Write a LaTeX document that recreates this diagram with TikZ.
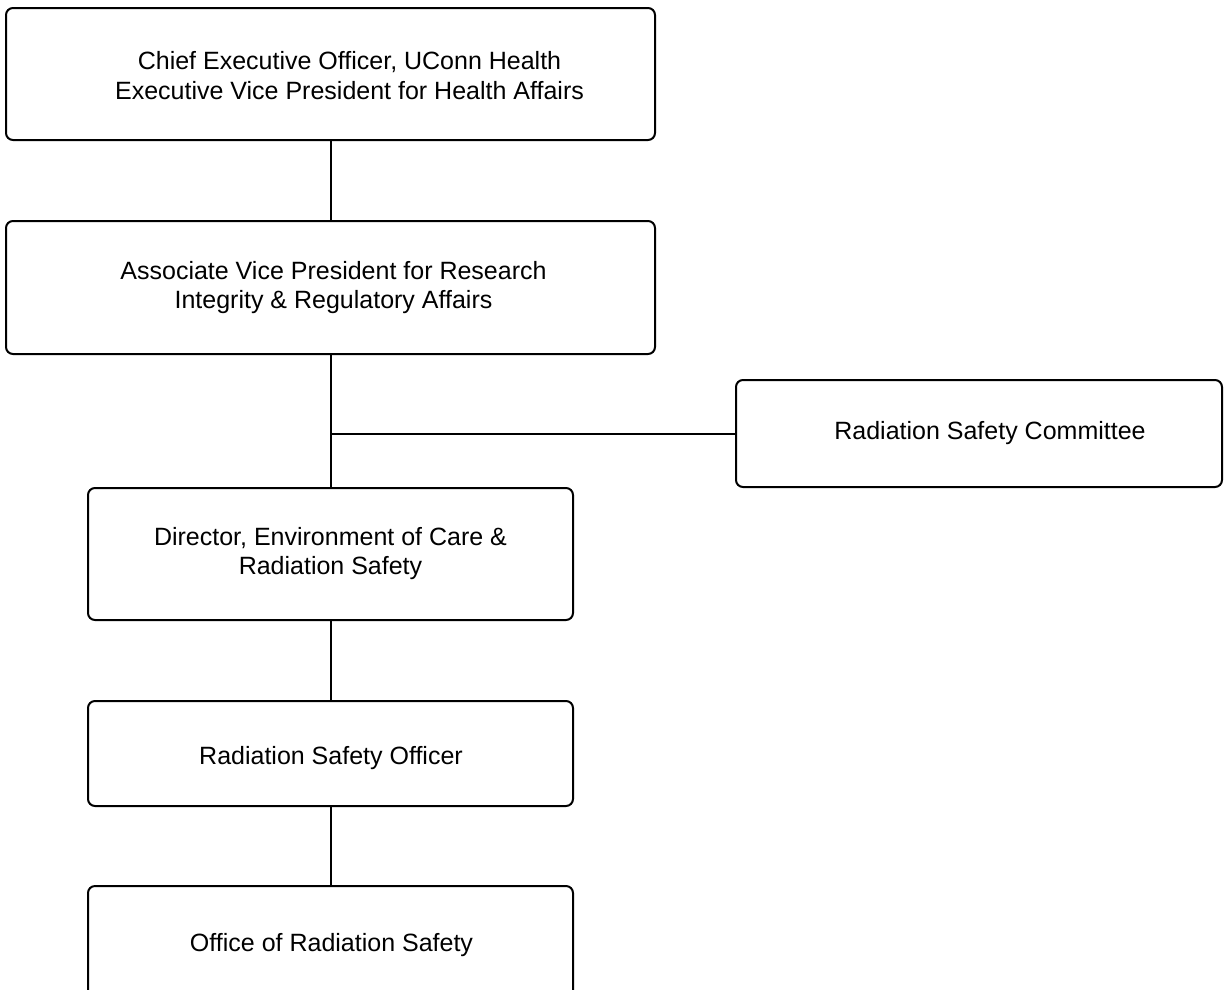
\documentclass[tikz,border=0pt]{standalone}
\usepackage{fontspec}
\setmainfont{Liberation Sans}
\begin{document}
\begin{tikzpicture}[x=1pt,y=-1pt,
  box/.style={draw=black, line width=2pt, rounded corners=7pt, fill=white,
    align=center, inner sep=0pt, font=\fontsize{25}{29.5}\selectfont, text=black},
  conn/.style={draw=black, line width=2pt},
  lbl/.style={align=center, inner sep=0pt, font=\fontsize{25}{29.5}\selectfont, text=black}]
\useasboundingbox (0,0) rectangle (1225,989);
\node[box, minimum width=649pt, minimum height=132pt] (ceo) at (330.5,74) {};
\node[lbl] (ceotext) at (349.5,75.5) {Chief Executive Officer, UConn Health\\Executive Vice President for Health Affairs};
\node[box, minimum width=649pt, minimum height=133pt] (avp) at (330.5,287.5) {};
\node[lbl] (avptext) at (333.5,287.5) {Associate Vice President for Research\\Integrity \& Regulatory Affairs};
\node[box, minimum width=486pt, minimum height=107pt] (rsc) at (979,433.5) {};
\node[lbl] (rsctext) at (990,433) {Radiation Safety Committee};
\node[box, minimum width=485pt, minimum height=132pt] (dir) at (330.5,554) {};
\node[lbl] (dirtext) at (330.5,553.5) {Director, Environment of Care \&\\Radiation Safety};
\node[box, minimum width=485pt, minimum height=105pt] (rso) at (330.5,753.5) {};
\node[lbl] (rsotext) at (331,758) {Radiation Safety Officer};
\node[box, minimum width=485pt, minimum height=112pt] (ors) at (330.5,942) {};
\node[lbl] (orstext) at (331.5,945) {Office of Radiation Safety};
\coordinate (j) at (avp.south |- rsc.west);
\draw[conn] (ceo.south) -- (avp.north);
\draw[conn] (avp.south) -- (dir.north);
\draw[conn] (j) -- (rsc.west);
\draw[conn] (dir.south) -- (rso.north);
\draw[conn] (rso.south) -- (ors.north);
\end{tikzpicture}
\end{document}
